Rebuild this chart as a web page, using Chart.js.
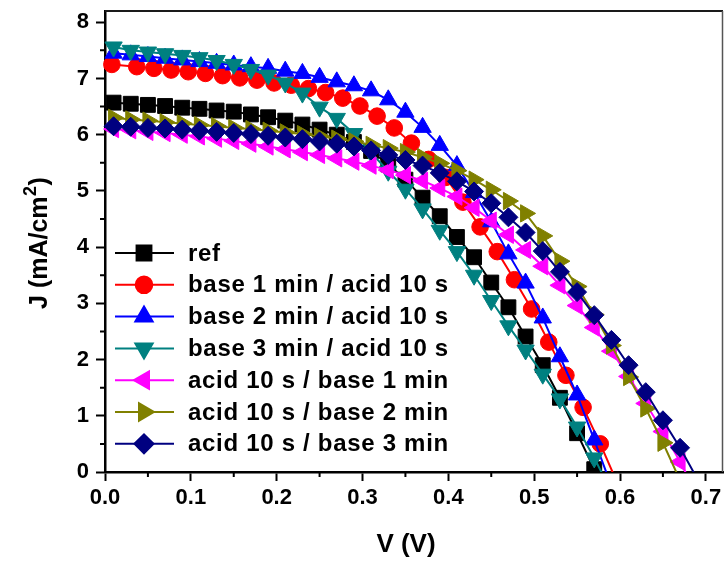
<!DOCTYPE html>
<html>
<head>
<meta charset="utf-8">
<script src="https://cdn.jsdelivr.net/npm/chart.js@4.4.1/dist/chart.umd.min.js"></script>
<style>
  html, body { margin: 0; padding: 0; background: #ffffff; }
  #wrap { width: 724px; height: 562px; }
</style>
</head>
<body>
<div id="wrap"><canvas id="jv" width="724" height="562"></canvas></div>
<script>
// Bias voltage (V) of the sweep shared by most samples
const voltage = [0.01, 0.03, 0.05, 0.07, 0.09, 0.11, 0.13, 0.15, 0.17, 0.19,
                 0.21, 0.23, 0.25, 0.27, 0.29, 0.31, 0.33, 0.35, 0.37, 0.39,
                 0.41, 0.43, 0.45, 0.47, 0.49, 0.51, 0.53, 0.55, 0.57, 0.59,
                 0.61, 0.63, 0.65, 0.67, 0.69];
// Voltage points of the "base 1 min / acid 10 s" sweep
const vBase1 = [0.008, 0.037, 0.057, 0.077, 0.097, 0.117, 0.137, 0.157, 0.177, 0.197,
                0.217, 0.237, 0.257, 0.277, 0.297, 0.317, 0.337, 0.357, 0.377, 0.397,
                0.417, 0.437, 0.457, 0.477, 0.497, 0.517, 0.537, 0.557, 0.577, 0.597];

// Current density J (mA/cm2)
const jRef   = [6.57, 6.55, 6.53, 6.51, 6.48, 6.46, 6.43, 6.41, 6.36, 6.31,
                6.25, 6.18, 6.09, 6.00, 5.87, 5.71, 5.47, 5.20, 4.88, 4.55,
                4.18, 3.82, 3.37, 2.93, 2.41, 1.90, 1.32, 0.69, 0.05];
const jBase1 = [7.25, 7.21, 7.18, 7.15, 7.12, 7.09, 7.05, 7.01, 6.97, 6.92,
                6.88, 6.82, 6.75, 6.65, 6.51, 6.33, 6.12, 5.85, 5.56, 5.24,
                4.80, 4.36, 3.92, 3.42, 2.90, 2.31, 1.72, 1.15, 0.50, -0.20];
const jBase2 = [7.45, 7.42, 7.39, 7.36, 7.33, 7.30, 7.27, 7.24, 7.21, 7.18,
                7.13, 7.09, 7.02, 6.94, 6.87, 6.78, 6.62, 6.40, 6.13, 5.81,
                5.45, 4.97, 4.45, 3.88, 3.36, 2.74, 2.05, 1.37, 0.57, -0.25];
const jBase3 = [7.56, 7.50, 7.47, 7.44, 7.41, 7.37, 7.32, 7.25, 7.16, 7.06,
                6.92, 6.74, 6.49, 6.29, 6.02, 5.68, 5.35, 5.03, 4.68, 4.30,
                3.92, 3.50, 3.05, 2.60, 2.17, 1.74, 1.30, 0.80, 0.25, -0.35];
const jAcid1 = [6.10, 6.08, 6.05, 6.03, 6.00, 5.97, 5.93, 5.89, 5.84, 5.79,
                5.74, 5.69, 5.64, 5.58, 5.52, 5.45, 5.37, 5.28, 5.18, 5.05,
                4.90, 4.70, 4.47, 4.22, 3.95, 3.66, 3.32, 2.96, 2.57, 2.15,
                1.70, 1.22, 0.72, 0.18, -0.40];
const jAcid2 = [6.30, 6.27, 6.25, 6.22, 6.20, 6.17, 6.15, 6.12, 6.10, 6.07,
                6.04, 6.01, 5.97, 5.93, 5.88, 5.82, 5.76, 5.69, 5.60, 5.49,
                5.36, 5.20, 5.02, 4.82, 4.60, 4.20, 3.75, 3.30, 2.80, 2.25,
                1.69, 1.13, 0.52, -0.15];
const jAcid3 = [6.15, 6.14, 6.12, 6.11, 6.09, 6.07, 6.05, 6.03, 6.01, 5.98,
                5.95, 5.92, 5.88, 5.84, 5.79, 5.72, 5.64, 5.55, 5.45, 5.32,
                5.17, 4.99, 4.78, 4.53, 4.26, 3.93, 3.56, 3.20, 2.79, 2.35,
                1.90, 1.42, 0.92, 0.43, -0.12];

const seriesNames = ['ref', 'base 1 min / acid 10 s', 'base 2 min / acid 10 s',
                     'base 3 min / acid 10 s', 'acid 10 s / base 1 min',
                     'acid 10 s / base 2 min', 'acid 10 s / base 3 min'];
const seriesV = [voltage, vBase1, voltage, voltage, voltage, voltage, voltage];
const seriesJ = [jRef, jBase1, jBase2, jBase3, jAcid1, jAcid2, jAcid3];

// Axis ranges and ticks
const xMin = 0, xMax = 0.72, xMajor = 0.1, xMinor = 0.05;
const yMin = 0, yMax = 8.2, yMajor = 1, yMinor = 0.5;
const xTitle = 'V (V)';
const yTitleMain = 'J (mA/cm', yTitleSup = '2', yTitleEnd = ')';

// Marker / colour scheme per series
const looks = [
  { color: '#000000', shape: 'rect',     radius: 10.5, rot: 0 },
  { color: '#ff0000', shape: 'circle',   radius: 8.3,  rot: 0 },
  { color: '#0000ff', shape: 'triangle', radius: 10,   rot: 0 },
  { color: '#008080', shape: 'triangle', radius: 10,   rot: 180 },
  { color: '#ff00ff', shape: 'triangle', radius: 10,   rot: 270 },
  { color: '#808000', shape: 'triangle', radius: 10,   rot: 90 },
  { color: '#000080', shape: 'rectRot',  radius: 9.5,  rot: 0 }
];

const FONT = "'Liberation Sans', Arial, Helvetica, sans-serif";

const datasets = seriesJ.map((js, i) => ({
  label: seriesNames[i],
  data: js.map((j, k) => ({ x: seriesV[i][k], y: j })),
  showLine: true,
  tension: 0,
  borderColor: looks[i].color,
  backgroundColor: looks[i].color,
  borderWidth: 2,
  pointStyle: looks[i].shape,
  rotation: looks[i].rot,
  pointRadius: ctx => (ctx.raw && ctx.raw.y < 0) ? 0 : looks[i].radius,
  pointBorderWidth: 1,
  pointBorderColor: looks[i].color,
  pointBackgroundColor: looks[i].color,
  order: seriesJ.length - i,
  clip: { left: 14, right: 14, top: 14, bottom: 0 }
}));

function noPad(scale) {
  scale.paddingLeft = 0; scale.paddingRight = 0;
  scale.paddingTop = 0; scale.paddingBottom = 0;
}

// Minor ticks, plot frame, axis titles and the legend block
const decorations = {
  id: 'decorations',
  afterDraw(chart) {
    const ctx = chart.ctx;
    const a = chart.chartArea;
    const xs = chart.scales.x, ys = chart.scales.y;
    ctx.save();
    // top / right frame
    ctx.strokeStyle = '#1a1a1a';
    ctx.lineWidth = 2;
    ctx.beginPath();
    ctx.moveTo(a.left, a.top); ctx.lineTo(a.right, a.top);
    ctx.stroke();
    ctx.strokeStyle = '#555555';
    ctx.lineWidth = 1.5;
    ctx.beginPath();
    ctx.moveTo(a.right - 0.5, a.top); ctx.lineTo(a.right - 0.5, a.bottom);
    ctx.stroke();

    // minor ticks
    ctx.strokeStyle = '#000000';
    ctx.lineWidth = 2;
    ctx.beginPath();
    for (let v = yMin + yMinor; v < yMax; v += yMajor) {
      const py = ys.getPixelForValue(v);
      ctx.moveTo(a.left - 5, py); ctx.lineTo(a.left, py);
    }
    for (let v = xMin + xMinor; v < xMax; v += xMajor) {
      const px = xs.getPixelForValue(v);
      ctx.moveTo(px, a.bottom); ctx.lineTo(px, a.bottom + 5);
    }
    ctx.stroke();

    // axis titles
    ctx.fillStyle = '#000000';
    ctx.font = 'bold 26px ' + FONT;
    ctx.textAlign = 'center';
    ctx.textBaseline = 'middle';
    ctx.fillText(xTitle, 406, 545);

    ctx.translate(40, 243);
    ctx.rotate(-Math.PI / 2);
    const mainFont = 'bold 25px ' + FONT, supFont = 'bold 18px ' + FONT;
    ctx.font = mainFont;
    const w1 = ctx.measureText(yTitleMain).width;
    const w3 = ctx.measureText(yTitleEnd).width;
    ctx.font = supFont;
    const w2 = ctx.measureText(yTitleSup).width + 1;
    let x0 = -(w1 + w2 + w3) / 2;
    ctx.textAlign = 'left';
    ctx.font = mainFont;
    ctx.fillText(yTitleMain, x0, 0);
    ctx.font = supFont;
    ctx.fillText(yTitleSup, x0 + w1 + 0.5, -9);
    ctx.font = mainFont;
    ctx.fillText(yTitleEnd, x0 + w1 + w2, 0);
    ctx.restore();

    // legend
    ctx.save();
    const lx0 = 115, lx1 = 174, mx = 144, tx = 188, ty0 = 253, dy = 31.8;
    ctx.font = 'bold 24px ' + FONT;
    if ('letterSpacing' in ctx) ctx.letterSpacing = '0.7px';
    ctx.textAlign = 'left';
    ctx.textBaseline = 'middle';
    seriesNames.forEach((name, i) => {
      const y = ty0 + dy * i;
      const lk = looks[i];
      ctx.strokeStyle = lk.color;
      ctx.lineWidth = 2;
      ctx.beginPath();
      ctx.moveTo(lx0, y); ctx.lineTo(lx1, y);
      ctx.stroke();
      ctx.fillStyle = lk.color;
      Chart.helpers.drawPoint(ctx, {
        pointStyle: lk.shape, rotation: lk.rot, radius: lk.radius, borderWidth: 1
      }, mx, y);
      ctx.fillStyle = '#000000';
      ctx.fillText(name, tx, y + 1);
    });
    ctx.restore();
  }
};

new Chart(document.getElementById('jv'), {
  type: 'scatter',
  data: { datasets },
  options: {
    responsive: false,
    animation: false,
    events: [],
    layout: { autoPadding: false, padding: { left: 0, right: 1, top: 11, bottom: 0 } },
    plugins: { legend: { display: false }, tooltip: { enabled: false } },
    scales: {
      x: {
        type: 'linear', min: xMin, max: xMax,
        afterFit(scale) { scale.height = 90; noPad(scale); },
        border: { display: true, color: '#000000', width: 2.5 },
        grid: { display: true, drawOnChartArea: false, drawTicks: true,
                tickLength: 9, tickWidth: 2, tickColor: '#000000' },
        ticks: {
          stepSize: xMajor, includeBounds: false, autoSkip: false,
          maxRotation: 0, padding: 4, color: '#000000',
          font: { family: FONT, size: 22, weight: 'bold' },
          callback: v => Number(v).toFixed(1)
        }
      },
      y: {
        type: 'linear', min: yMin, max: yMax,
        afterFit(scale) { scale.width = 105; noPad(scale); },
        border: { display: true, color: '#000000', width: 2.5 },
        grid: { display: true, drawOnChartArea: false, drawTicks: true,
                tickLength: 9, tickWidth: 2, tickColor: '#000000' },
        ticks: {
          stepSize: yMajor, includeBounds: false, autoSkip: false,
          padding: 7, color: '#000000',
          font: { family: FONT, size: 22, weight: 'bold' },
          callback: v => String(Math.round(v))
        }
      }
    }
  },
  plugins: [decorations]
});
</script>
</body>
</html>
